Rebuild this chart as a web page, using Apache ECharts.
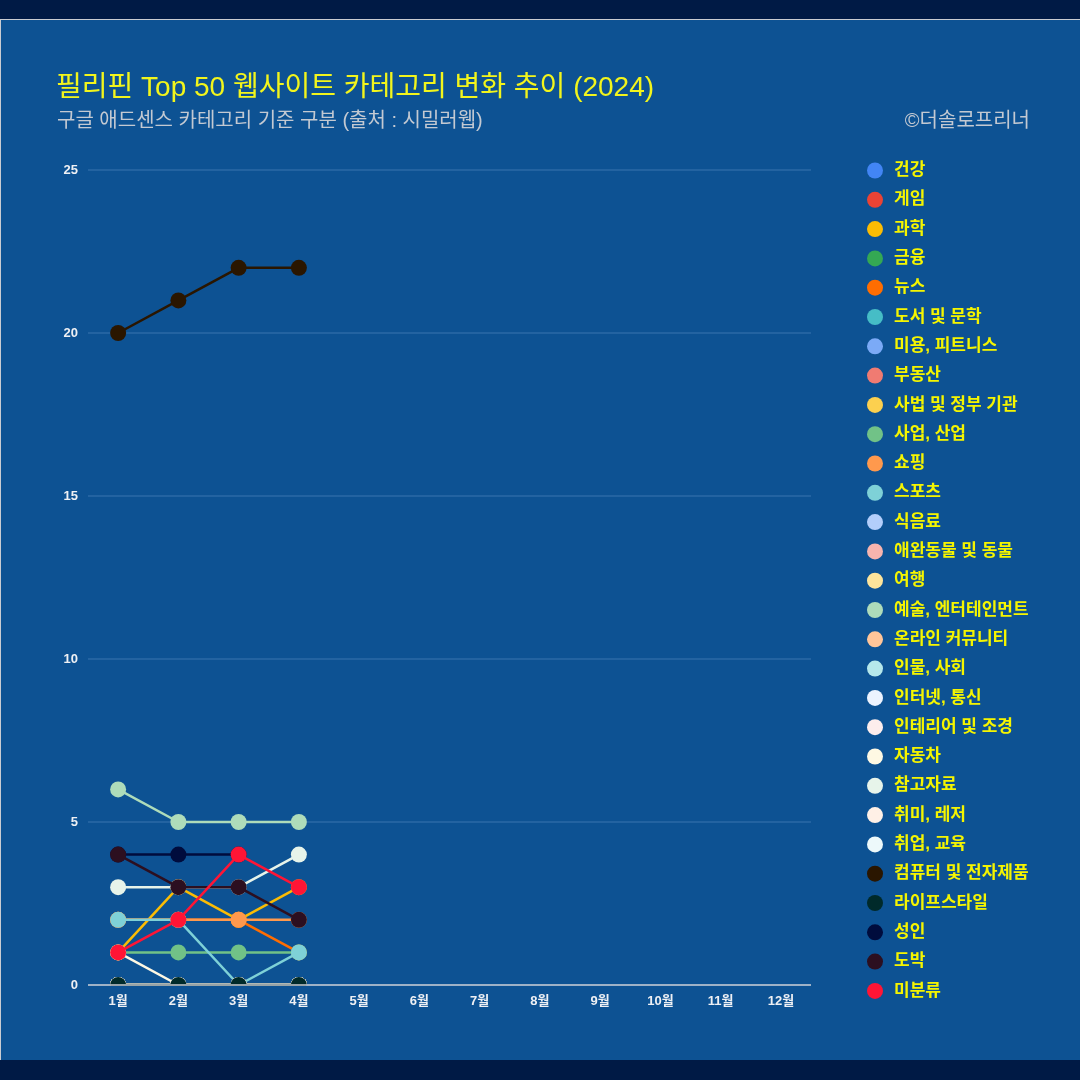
<!DOCTYPE html>
<html>
<head>
<meta charset="utf-8">
<script src="https://cdn.jsdelivr.net/npm/echarts@6/dist/echarts.min.js"></script>
<style>
html,body{margin:0;padding:0;width:1080px;height:1080px;background:#001a45;overflow:hidden;}
#panel{position:absolute;left:0;top:19px;width:1100px;height:1041px;background:#0d5293;border-top:1px solid #c9ccd2;border-left:1px solid #c9ccd2;box-sizing:border-box;}
#chart{position:absolute;left:0;top:0;width:1080px;height:1080px;}
</style>
</head>
<body>
<div id="panel"></div>
<div id="chart"></div>
<script>
// ---- data ----
const months = ['1월','2월','3월','4월','5월','6월','7월','8월','9월','10월','11월','12월'];
const categoryNames = ['건강','게임','과학','금융','뉴스','도서 및 문학','미용, 피트니스','부동산','사법 및 정부 기관','사업, 산업','쇼핑','스포츠','식음료','애완동물 및 동물','여행','예술, 엔터테인먼트','온라인 커뮤니티','인물, 사회','인터넷, 통신','인테리어 및 조경','자동차','참고자료','취미, 레저','취업, 교육','컴퓨터 및 전자제품','라이프스타일','성인','도박','미분류'];
const categoryColors = ['#4285f4','#ea4335','#fbbc04','#34a853','#ff6d01','#46bdc6','#7baaf7','#f07b72','#fcd04f','#71c287','#ff994d','#7ed1d7','#b3cefb','#f7b4ae','#fde49b','#aedcba','#ffc599','#b5e8eb','#ecf3fe','#fdedec','#fef8e3','#e7f4ea','#fff0e6','#edf9fa','#2a1600','#002a2a','#000c3d','#2c0f20','#ff1535'];

const zeros        = [0, 0, 0, 0];
const science      = [1, 3, 2, 3];   // 과학
const news         = [2, 2, 2, 1];   // 뉴스
const business     = [1, 1, 1, 1];   // 사업, 산업
const shopping     = [2, 2, 2, 2];   // 쇼핑
const sports       = [2, 2, 0, 1];   // 스포츠
const arts         = [6, 5, 5, 5];   // 예술, 엔터테인먼트
const autos        = [1, 0, 0, 0];   // 자동차
const reference    = [3, 3, 3, 4];   // 참고자료
const computers    = [20, 21, 22, 22]; // 컴퓨터 및 전자제품
const lifestyle    = [0, 0, 0, 0];   // 라이프스타일
const adult        = [4, 4, 4, null]; // 성인
const gambling     = [4, 3, 3, 2];   // 도박
const unclassified = [1, 2, 4, 3];   // 미분류

const valuesByName = {
  '과학': science, '뉴스': news, '사업, 산업': business, '쇼핑': shopping,
  '스포츠': sports, '예술, 엔터테인먼트': arts, '자동차': autos, '참고자료': reference,
  '컴퓨터 및 전자제품': computers, '라이프스타일': lifestyle, '성인': adult,
  '도박': gambling, '미분류': unclassified
};

// ---- chart ----
const chart = echarts.init(document.getElementById('chart'), null, {renderer:'canvas'});
const font = "'Liberation Sans', Arial, 'Noto Sans CJK KR', sans-serif";

const series = categoryNames.map((n, i) => ({
  name: n,
  type: 'line',
  data: valuesByName[n] || zeros,
  symbol: 'circle',
  symbolSize: 16,
  showSymbol: true,
  clip: false,
  lineStyle: {width: 2.5, color: categoryColors[i]},
  itemStyle: {color: categoryColors[i]},
  emphasis: {disabled: true},
  z: 2 + i * 0.01
}));

const gLeft = 88, gRight = 269, gTop = 170, gBottom = 95;

chart.setOption({
  animation: false,
  backgroundColor: 'transparent',
  color: categoryColors,
  title: [
    {text: '필리핀 Top 50 웹사이트 카테고리 변화 추이 (2024)', left: 51, top: 69,
     textStyle: {color: '#f2f51c', fontSize: 28, fontWeight: 'normal', fontFamily: font}},
    {text: '구글 애드센스 카테고리 기준 구분 (출처 : 시밀러웹)', left: 52, top: 106,
     textStyle: {color: '#c3c9d2', fontSize: 20, fontWeight: 'normal', fontFamily: font}},
    {text: '©더솔로프리너', right: 45, top: 106,
     textStyle: {color: '#c3c9d2', fontSize: 20, fontWeight: 'normal', fontFamily: font}}
  ],
  legend: {
    orient: 'vertical',
    left: 862,
    top: 157,
    itemGap: 12.3,
    itemWidth: 16,
    itemHeight: 16,
    icon: 'circle',
    data: categoryNames,
    textStyle: {color: '#f5f500', fontSize: 17, lineHeight: 16, fontWeight: 'bold', fontFamily: font, padding: [0,0,0,6]}
  },
  grid: {left: gLeft, right: gRight, top: gTop, bottom: gBottom},
  xAxis: {
    type: 'category',
    data: months,
    boundaryGap: true,
    axisLine: {show: false},
    axisTick: {show: false},
    axisLabel: {color: '#eef0f4', fontSize: 13, fontWeight: 'bold', fontFamily: font, margin: 10}
  },
  yAxis: {
    type: 'value',
    min: 0, max: 25, interval: 5,
    axisLine: {show: false},
    axisTick: {show: false},
    axisLabel: {color: '#eef0f4', fontSize: 13, fontWeight: 'bold', fontFamily: font, margin: 10},
    splitLine: {lineStyle: {color: '#2b6aa6', width: 1.5}}
  },
  graphic: [
    {type: 'rect', z: 100, silent: true,
     shape: {x: gLeft - 10, y: 1080 - gBottom + 1, width: 1080 - gLeft - gRight + 20, height: 8},
     style: {fill: '#0d5293'}},
    {type: 'line', z: 101, silent: true,
     shape: {x1: gLeft, y1: 1080 - gBottom, x2: 1080 - gRight, y2: 1080 - gBottom},
     style: {stroke: '#c8ccd4', lineWidth: 1.5}}
  ],
  series: series
});
</script>
</body>
</html>
